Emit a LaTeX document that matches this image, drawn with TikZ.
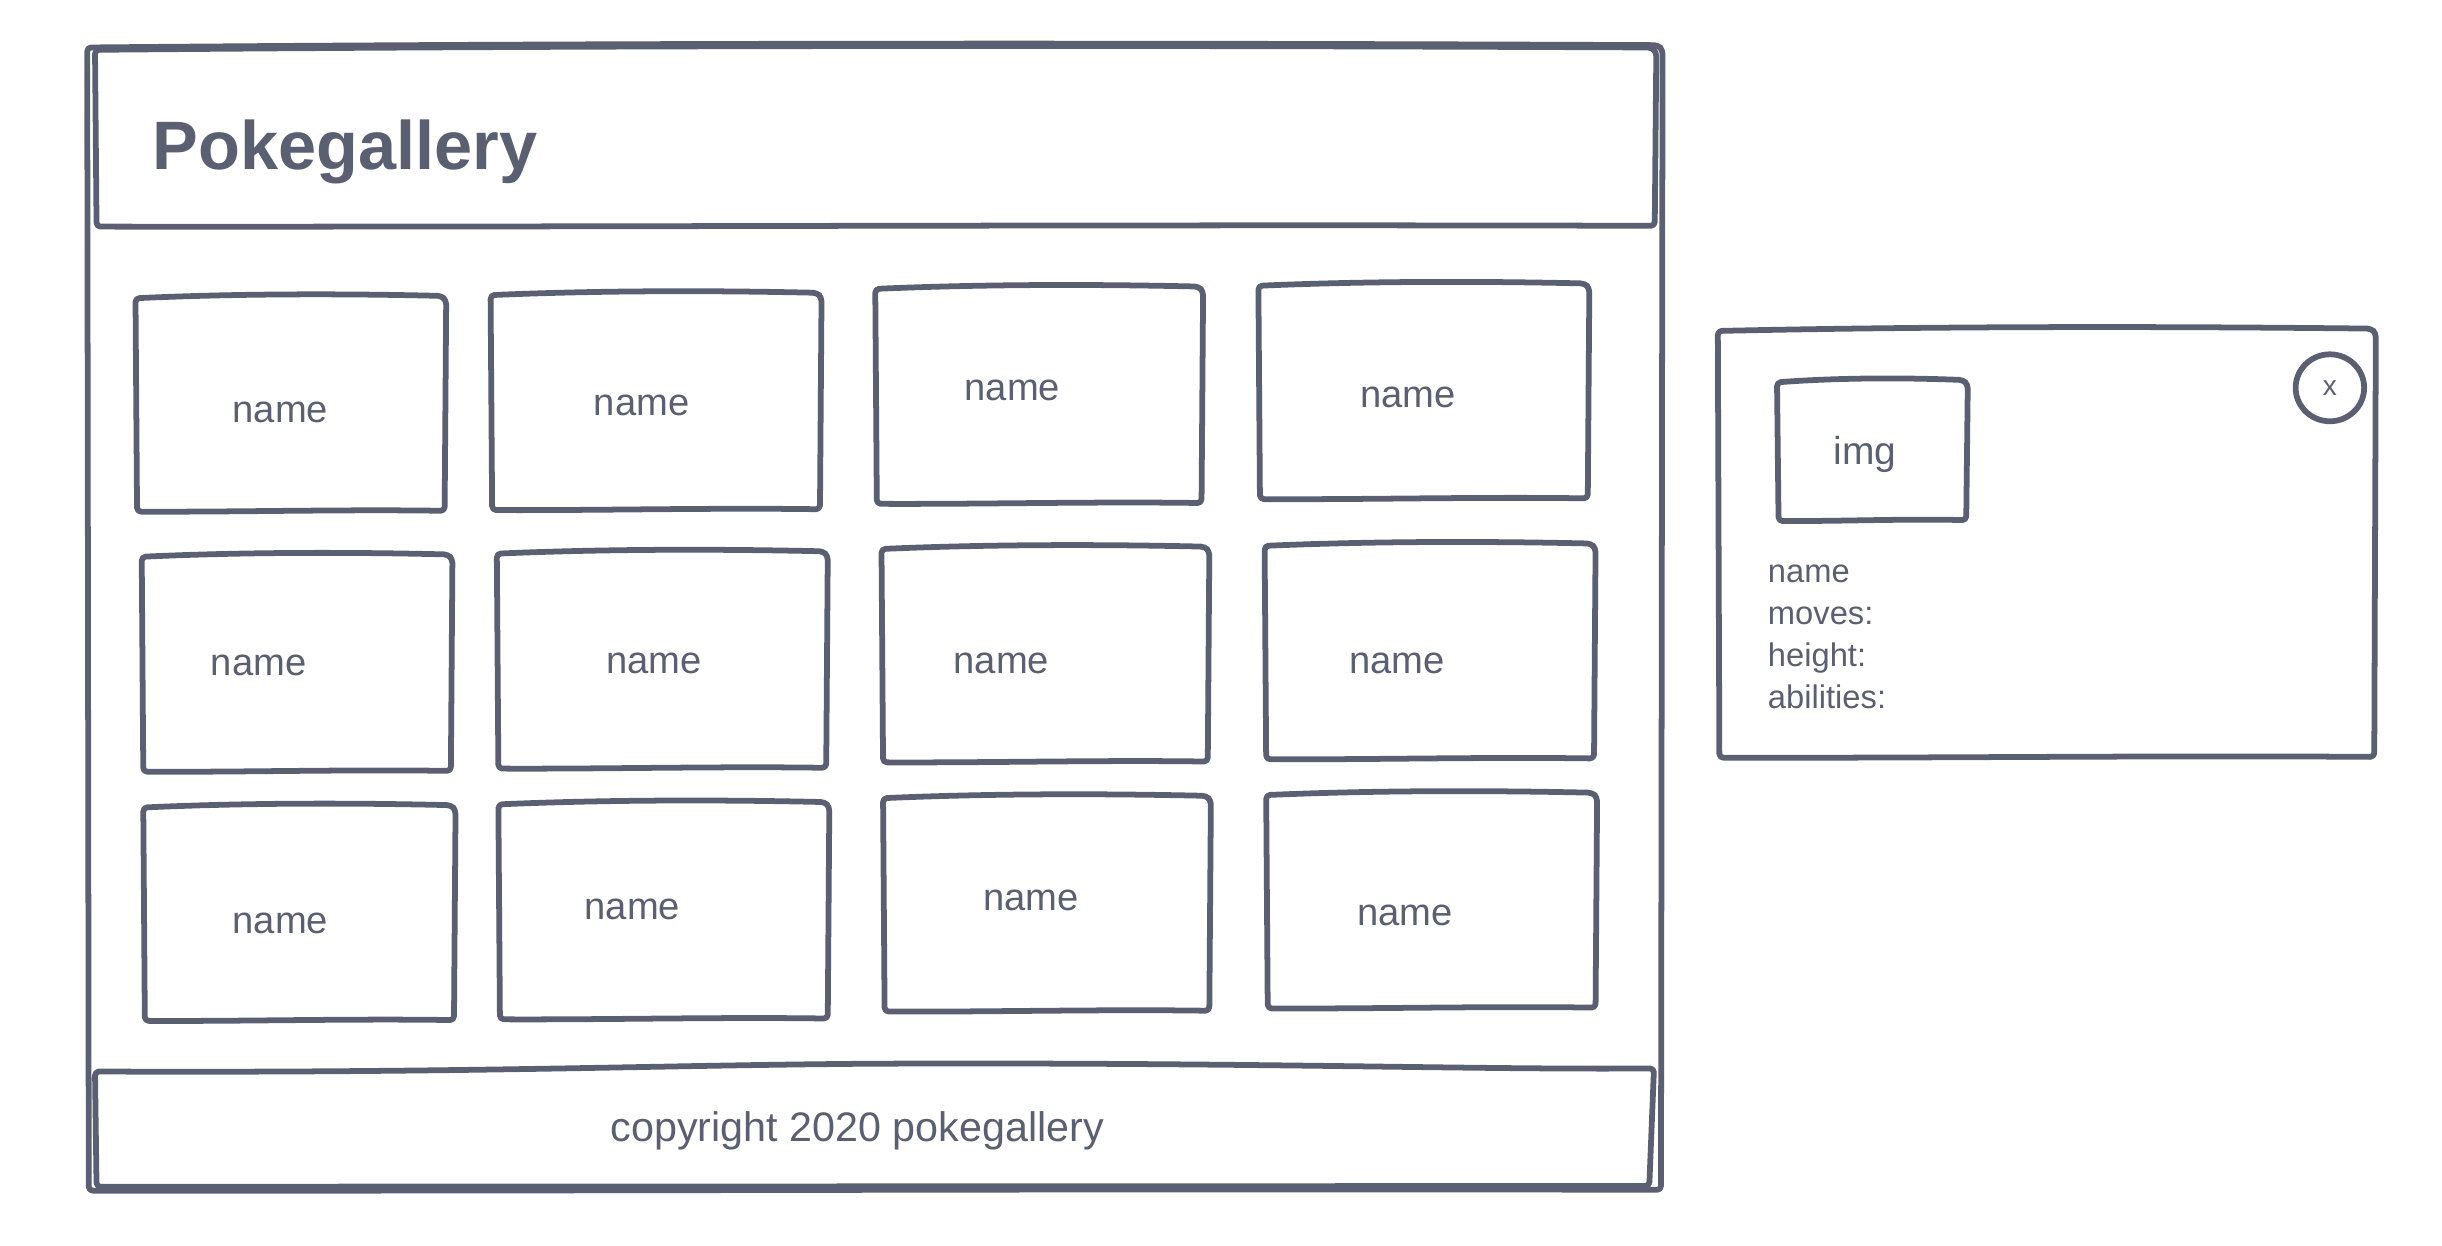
\documentclass[tikz,border=0pt]{standalone}
\usepackage{fontspec}
\setmainfont{Liberation Sans}
\usetikzlibrary{fit,shapes.geometric}
\definecolor{ink}{HTML}{5A6072}
\tikzset{
  sk/.style={draw=ink, line width=3.7pt, line join=round, line cap=round},
  geom/.style={inner sep=0pt, outer sep=0pt, draw=none},
  lbl/.style={text=ink, inner sep=0pt, font=\fontsize{24.5}{28}\selectfont},
  info/.style={text=ink, inner sep=0pt, anchor=base west, font=\fontsize{21}{25}\selectfont},
}
% sketchy box: [style]{name}{x1}{y1}{x2}{y2}
\newcommand{\skbox}[6][sk]{%
  \node[geom, fit={(#3,#4)(#5,#6)}] (#2) {};
  \draw[#1, rounded corners=2.5pt]
    (#3,#4+1.5) .. controls (#3*0.67+#5*0.33,#4-1.5) and (#3*0.33+#5*0.67,#4-1.5) .. (#5-2.5,#4)
    -- (#5+0.5,#4+3) -- (#5-0.5,#6)
    .. controls (#3*0.33+#5*0.67,#6-1) and (#3*0.67+#5*0.33,#6+0.8) .. (#3+1,#6+0.5) -- cycle;
}
\begin{document}
\begin{tikzpicture}[x=1pt,y=-1pt]
\useasboundingbox (0,0) rectangle (1568,800);

% main window
\skbox{frame}{56}{29}{1067}{764}
\skbox{header}{61}{30.5}{1063}{145}
\node[geom, text=ink, anchor=base west, font=\bfseries\fontsize{44}{50}\selectfont] (title) at (98,109) {Pokegallery};

% footer
\node[geom, fit={(60,684)(1061,762)}] (footer) {};
\draw[sk, rounded corners=2.5pt] (61,688) .. controls (300,689) and (420,684) .. (560,683)
  .. controls (800,682) and (950,687) .. (1062,686) -- (1059,761.5) -- (62,762) -- cycle;
\node[geom, text=ink, anchor=base west, font=\fontsize{26.5}{30}\selectfont] (copy) at (392,733) {copyright 2020 pokegallery};

% cards, row 1
\skbox{c11}{87}{190}{286}{328}
\skbox{c12}{315}{188}{527}{327}
\skbox{c13}{562}{184}{772}{323}
\skbox{c14}{808}{182}{1020}{320}
% row 2
\skbox{c21}{91}{356}{290}{495}
\skbox{c22}{319}{354}{531}{493}
\skbox{c23}{566}{351}{776}{489}
\skbox{c24}{812}{349}{1024}{487}
% row 3
\skbox{c31}{92}{517}{292}{655}
\skbox{c32}{320}{515}{532}{654}
\skbox{c33}{567}{511}{777}{649}
\skbox{c34}{813}{509}{1025}{647}

\node[lbl] (n11) at (180,265) {name};
\node[lbl] (n12) at (412,260) {name};
\node[lbl] (n13) at (650,251) {name};
\node[lbl] (n14) at (904,255) {name};
\node[lbl] (n21) at (166,427) {name};
\node[lbl] (n22) at (420,426) {name};
\node[lbl] (n23) at (643,426) {name};
\node[lbl] (n24) at (897,426) {name};
\node[lbl] (n31) at (180,593) {name};
\node[lbl] (n32) at (406,584) {name};
\node[lbl] (n33) at (662,578) {name};
\node[lbl] (n34) at (902,588) {name};

% detail panel
\skbox{panel}{1103}{211}{1525}{486}
\skbox{img}{1141}{244}{1263}{334}
\node[geom, text=ink, anchor=base, font=\fontsize{25}{30}\selectfont] (imgtxt) at (1197.5,298) {img};
\node[sk, ellipse, minimum width=44pt, minimum height=43pt, inner sep=0pt, text=ink, font=\fontsize{18}{20}\selectfont] (close) at (1496,249) {x};
\node[info] (iname) at (1135,374) {name};
\node[info] (imoves) at (1135,401) {moves:};
\node[info] (iheight) at (1135,428) {height:};
\node[info] (iabil) at (1135,455) {abilities:};
\end{tikzpicture}
\end{document}
